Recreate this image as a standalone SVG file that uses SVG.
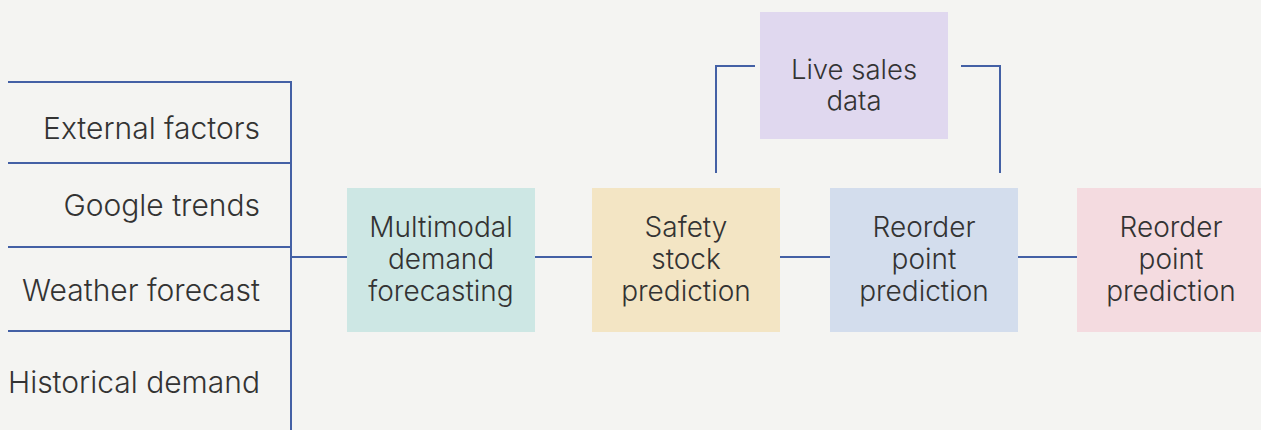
<svg xmlns="http://www.w3.org/2000/svg" width="1261" height="430" viewBox="0 0 1261 430">
  <style>
    .bg { fill: #f4f4f2; }
    .wire { fill: none; stroke: #4360a5; stroke-width: 2; }
    .label { font-family: Inter, "Liberation Sans", sans-serif; font-weight: 300; font-size: 28px; fill: #333333; }
    .side { font-size: 30px; }
    .top { font-size: 27.5px; }
    .mid { text-anchor: middle; }
    .end { text-anchor: end; }
  </style>
  <rect class="bg" x="0" y="0" width="1261" height="430"/>

  <!-- input bracket and connectors -->
  <g id="connectors">
    <path class="wire" d="M8 82 H291 M8 163 H291 M8 247 H291 M8 331 H291 M291 81 V430"/>
    <path class="wire" d="M291 257 H347 M535 257 H592 M780 257 H830 M1018 257 H1077"/>
    <path class="wire" d="M755 66 H716 V173 M961 66 H1000 V173"/>
  </g>

  <!-- input labels -->
  <g id="inputs">
    <text class="label side end" x="260" y="139">External factors</text>
    <text class="label side end" x="260" y="216">Google trends</text>
    <text class="label side end" x="260" y="301">Weather forecast</text>
    <text class="label side end" x="260" y="393">Historical demand</text>
  </g>

  <g id="node-forecasting">
    <rect x="347" y="188" width="188" height="144" fill="#cde7e4"/>
    <text class="label mid" x="441" y="237">Multimodal</text>
    <text class="label mid" x="441" y="269">demand</text>
    <text class="label mid" x="441" y="301">forecasting</text>
  </g>

  <g id="node-safety-stock">
    <rect x="592" y="188" width="188" height="144" fill="#f3e5c4"/>
    <text class="label mid" x="686" y="237">Safety</text>
    <text class="label mid" x="686" y="269">stock</text>
    <text class="label mid" x="686" y="301">prediction</text>
  </g>

  <g id="node-reorder-1">
    <rect x="830" y="188" width="188" height="144" fill="#d3dded"/>
    <text class="label mid" x="924" y="237">Reorder</text>
    <text class="label mid" x="924" y="269">point</text>
    <text class="label mid" x="924" y="301">prediction</text>
  </g>

  <g id="node-reorder-2">
    <rect x="1077" y="188" width="188" height="144" fill="#f4dbe0"/>
    <text class="label mid" x="1171" y="237">Reorder</text>
    <text class="label mid" x="1171" y="269">point</text>
    <text class="label mid" x="1171" y="301">prediction</text>
  </g>

  <g id="node-live-sales">
    <rect x="760" y="12" width="188" height="127" fill="#e0d8ef"/>
    <text class="label top mid" x="854" y="79">Live sales</text>
    <text class="label top mid" x="854" y="110">data</text>
  </g>
</svg>
